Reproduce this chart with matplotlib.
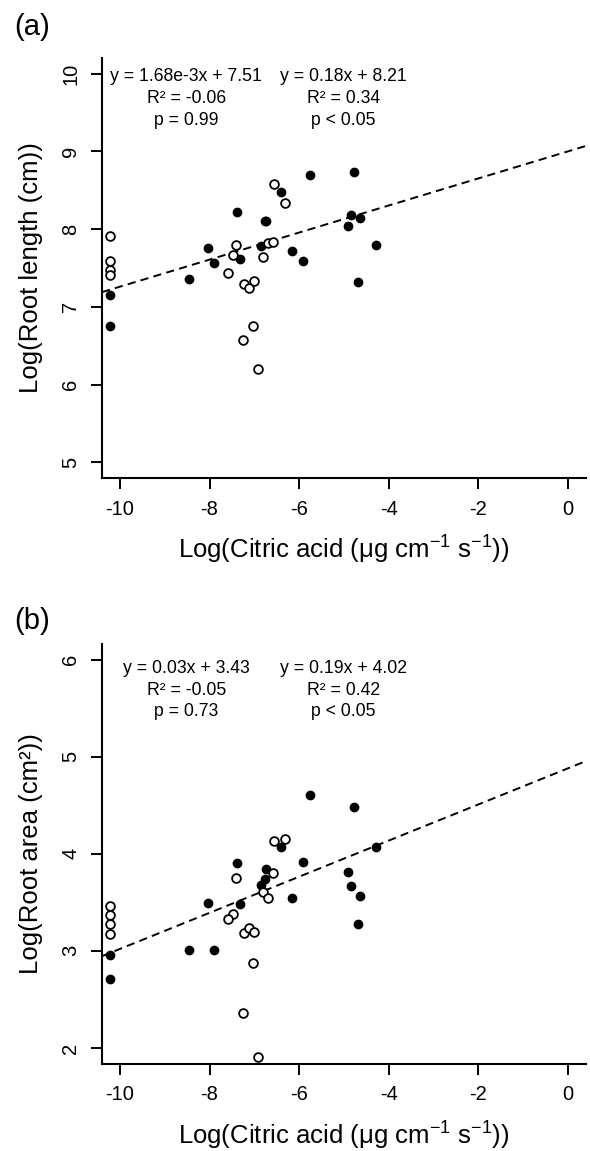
import matplotlib
matplotlib.use("Agg")
import matplotlib.pyplot as plt
import numpy as np

plt.rcParams['font.family'] = ['Liberation Sans', 'DejaVu Sans']
plt.rcParams['axes.unicode_minus'] = False
plt.rcParams['mathtext.fontset'] = 'custom'
plt.rcParams['mathtext.rm'] = 'Liberation Sans'
plt.rcParams['mathtext.it'] = 'Liberation Sans:italic'

# citric acid exudation (log), shared by both panels
x_filled = [-10.23, -10.23, -8.45, -8.03, -7.91, -7.39, -7.31, -6.86, -6.77, -6.75,
            -6.41, -6.15, -5.92, -5.75, -4.77, -4.90, -4.84, -4.64, -4.68, -4.28]
x_open = [-10.23, -10.23, -10.23, -10.23, -6.56, -6.31, -7.41, -7.47, -7.59, -7.24,
          -7.12, -7.01, -6.81, -6.69, -6.59, -7.03, -7.25, -6.91]

# (a) root length
len_filled = [7.15, 6.76, 7.36, 7.76, 7.57, 8.22, 7.61, 7.78, 8.11, 8.10,
              8.48, 7.72, 7.59, 8.70, 8.74, 8.04, 8.18, 8.14, 7.32, 7.79]
len_open = [7.91, 7.59, 7.47, 7.41, 8.58, 8.33, 7.79, 7.67, 7.43, 7.30,
            7.24, 7.33, 7.64, 7.82, 7.84, 6.76, 6.58, 6.20]
len_fit = (0.174, 9.0)  # slope, intercept of dashed line
len_text = [["y = 1.68e-3x + 7.51", "R² = -0.06", "p = 0.99"],
            ["y = 0.18x + 8.21", "R² = 0.34", "p < 0.05"]]

# (b) root area
area_filled = [2.96, 2.71, 3.01, 3.49, 3.01, 3.90, 3.48, 3.68, 3.74, 3.84,
               4.07, 3.54, 3.91, 4.61, 4.48, 3.81, 3.67, 3.56, 3.28, 4.07]
area_open = [3.46, 3.37, 3.28, 3.17, 4.13, 4.15, 3.75, 3.38, 3.33, 3.18,
             3.24, 3.19, 3.61, 3.54, 3.80, 2.88, 2.36, 1.91]
area_fit = (0.186, 4.88)
area_text = [["y = 0.03x + 3.43", "R² = -0.05", "p = 0.73"],
             ["y = 0.19x + 4.02", "R² = 0.42", "p < 0.05"]]

xticks = [-10, -8, -6, -4, -2, 0]

fig = plt.figure(figsize=(5.9, 11.51), dpi=100)
ax1 = fig.add_axes([0.1729, 0.5847, 0.8203, 0.3649])
ax2 = fig.add_axes([0.1729, 0.0760, 0.8203, 0.3645])


def panel(ax, yf, yo, fit, texts, ylim, yticks, ylabel, text_y):
    ax.axline((0, fit[1]), slope=fit[0], color='black', lw=1.4,
              dashes=(4.2, 2.7), zorder=1)
    ax.plot(x_filled, yf, 'o', color='black', ms=6.0, zorder=3)
    ax.plot(x_open, yo, 'o', mfc='white', mec='black', mew=1.3, ms=6.3, zorder=3)
    ax.set_xlim(-10.4, 0.4)
    ax.set_ylim(*ylim)
    ax.set_xticks(xticks)
    ax.set_yticks(yticks)
    for s in ['top', 'right']:
        ax.spines[s].set_visible(False)
    for s in ['left', 'bottom']:
        ax.spines[s].set_linewidth(1.5)
    ax.tick_params(length=8, width=1.4, pad=7.5, labelsize=14.5)
    for lab in ax.get_yticklabels():
        lab.set_rotation(90)
        lab.set_va('center')
    ax.set_xlabel('Log(Citric acid (μg cm$^{-1}$ s$^{-1}$))', fontsize=18.5, labelpad=11)
    ax.set_ylabel(ylabel, fontsize=18.5, labelpad=13)
    for cx, block in zip([-8.52, -5.02], texts):
        for ty, t in zip(text_y, block):
            ax.text(cx, ty, t, ha='center', va='center', fontsize=12.7)


panel(ax1, len_filled, len_open, len_fit, len_text, (4.8, 10.2), [5, 6, 7, 8, 9, 10],
      'Log(Root length (cm))', [9.96, 9.68, 9.40])
panel(ax2, area_filled, area_open, area_fit, area_text, (1.84, 6.16), [2, 3, 4, 5, 6],
      'Log(Root area (cm²))', [5.91, 5.68, 5.46])

fig.text(32 / 590, 1 - 27 / 1151, '(a)', fontsize=21, ha='center', va='center')
fig.text(32 / 590, 1 - 621 / 1151, '(b)', fontsize=21, ha='center', va='center')

fig.savefig('out.png', dpi=100)
